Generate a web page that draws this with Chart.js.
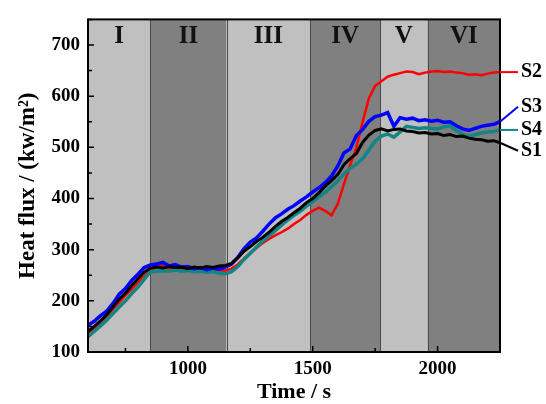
<!DOCTYPE html>
<html>
<head>
<meta charset="utf-8">
<script src="https://cdn.jsdelivr.net/npm/chart.js@4.4.0/dist/chart.umd.min.js"></script>
<style>
  html, body { margin: 0; padding: 0; background: #fff; }
  canvas { display: block; }
</style>
</head>
<body>
<canvas id="chart" width="546" height="404"></canvas>
<script>
// time axis (s)
const times = [600, 625, 650, 675, 700, 725, 750, 775, 800, 825, 850, 875, 900, 925, 950, 975,
	1000, 1025, 1050, 1075, 1100, 1125, 1150, 1175, 1200, 1225, 1250, 1275, 1300, 1325, 1350, 1375,
	1400, 1425, 1450, 1475, 1500, 1525, 1550, 1575, 1600, 1625, 1650, 1675, 1700, 1725, 1750, 1775,
	1800, 1825, 1850, 1875, 1900, 1925, 1950, 1975, 2000, 2025, 2050, 2075, 2100, 2125, 2150, 2175,
	2200, 2225, 2250];

// heat flux (kw/m2) per sensor
const s1 = [140, 150, 161, 173, 188, 203, 215, 230, 243, 256, 264, 266, 264, 267, 265, 266,
	263, 266, 264, 267, 265, 268, 269, 273, 284, 297, 306, 316, 324, 334, 345, 355,
	363, 372, 381, 392, 400, 411, 424, 435, 447, 466, 478, 488, 510, 524, 533, 536,
	532, 535, 536, 532, 531, 528, 529, 526, 527, 523, 525, 521, 522, 518, 516, 515,
	512, 513, 509];
const s2 = [137, 147, 158, 170, 183, 197, 210, 223, 236, 248, 260, 266, 268, 263, 264, 262,
	263, 262, 261, 262, 261, 260, 259, 263, 271, 283, 294, 303, 313, 321, 328, 334,
	341, 350, 358, 368, 376, 382, 376, 367, 389, 428, 465, 500, 550, 596, 620, 629,
	638, 642, 645, 648, 647, 643, 646, 648, 649, 647, 648, 646, 645, 642, 643, 641,
	644, 646, 647];
const s3 = [152, 160, 171, 180, 195, 213, 224, 240, 252, 265, 270, 272, 275, 268, 271, 266,
	267, 263, 265, 261, 264, 262, 266, 272, 285, 302, 315, 323, 336, 350, 362, 370,
	379, 386, 395, 403, 413, 421, 431, 444, 463, 489, 497, 523, 535, 551, 560, 563,
	568, 541, 558, 555, 557, 552, 554, 551, 553, 549, 550, 542, 536, 533, 537, 541,
	543, 545, 550];
const s4 = [130, 140, 151, 162, 175, 188, 200, 214, 227, 242, 257, 258, 259, 258, 260, 258,
	259, 257, 258, 256, 257, 254, 253, 257, 267, 281, 293, 305, 317, 327, 337, 348,
	358, 367, 375, 385, 394, 403, 412, 423, 434, 448, 459, 467, 478, 495, 512, 522,
	526, 520, 530, 541, 539, 537, 538, 537, 536, 540, 542, 533, 526, 521, 525, 528,
	530, 531, 534];

// test stages
const stageNames = ['I', 'II', 'III', 'IV', 'V', 'VI'];
const stageBounds = [600, 850, 1155, 1490, 1770, 1960, 2250];

// ticks
const xMajorTicks = [1000, 1500, 2000];
const xMinorTicks = [750, 1250, 1750, 2250];
const yMajorTicks = [100, 200, 300, 400, 500, 600, 700];
const yMinorTicks = [150, 250, 350, 450, 550, 650, 750];

const SERIF = '"Liberation Serif", "DejaVu Serif", serif';
const LIGHT = '#c0c0c0';
const DARK = '#808080';

const series = [
	{ name: 'S1', data: s1, color: '#000000', width: 3, dy: 8 },
	{ name: 'S3', data: s3, color: '#0000ff', width: 3.5, dy: -15 },
	{ name: 'S4', data: s4, color: '#138585', width: 3.5, dy: 0 },
	{ name: 'S2', data: s2, color: '#ff0000', width: 2.5, dy: 0 },
];

// stage shading + labels behind the lines
const stagePlugin = {
	id: 'stages',
	beforeDatasetsDraw(chart) {
		const { ctx, chartArea: a, scales: { x } } = chart;
		ctx.save();
		for (let i = 0; i < stageNames.length; i++) {
			const x0 = x.getPixelForValue(stageBounds[i]);
			const x1 = x.getPixelForValue(stageBounds[i + 1]);
			ctx.fillStyle = i % 2 === 0 ? LIGHT : DARK;
			ctx.fillRect(x0, a.top, x1 - x0, a.bottom - a.top);
			ctx.fillStyle = '#111';
			ctx.font = 'bold 25px ' + SERIF;
			ctx.textAlign = 'center';
			ctx.textBaseline = 'middle';
			ctx.fillText(stageNames[i], (x0 + x1) / 2, a.top + 17);
		}
		ctx.strokeStyle = '#4a4a4a';
		ctx.lineWidth = 1;
		for (let i = 1; i < stageBounds.length - 1; i++) {
			const px = Math.round(x.getPixelForValue(stageBounds[i])) + 0.5;
			ctx.beginPath();
			ctx.moveTo(px, a.top);
			ctx.lineTo(px, a.bottom);
			ctx.stroke();
		}
		ctx.restore();
	},
	afterDatasetsDraw(chart) {
		const { ctx, chartArea: a, scales: { x, y } } = chart;
		ctx.save();
		// frame
		ctx.strokeStyle = '#000';
		ctx.lineWidth = 2;
		ctx.strokeRect(a.left, a.top, a.right - a.left, a.bottom - a.top);
		// inward ticks
		ctx.lineWidth = 1.5;
		ctx.beginPath();
		xMajorTicks.forEach((v) => {
			const px = x.getPixelForValue(v);
			ctx.moveTo(px, a.bottom);
			ctx.lineTo(px, a.bottom - 6);
		});
		xMinorTicks.forEach((v) => {
			const px = x.getPixelForValue(v);
			ctx.moveTo(px, a.bottom);
			ctx.lineTo(px, a.bottom - 4);
		});
		yMajorTicks.forEach((v) => {
			const py = y.getPixelForValue(v);
			ctx.moveTo(a.left, py);
			ctx.lineTo(a.left + 6, py);
		});
		yMinorTicks.forEach((v) => {
			const py = y.getPixelForValue(v);
			ctx.moveTo(a.left, py);
			ctx.lineTo(a.left + 4, py);
		});
		ctx.stroke();
		// series labels with leader lines
		ctx.font = 'bold 20px ' + SERIF;
		ctx.textAlign = 'left';
		ctx.textBaseline = 'middle';
		series.forEach((s) => {
			const last = s.data.length - 1;
			const px = x.getPixelForValue(times[last]);
			const py = y.getPixelForValue(s.data[last]);
			const ly = py + s.dy;
			ctx.strokeStyle = s.color;
			ctx.lineWidth = 2;
			ctx.beginPath();
			ctx.moveTo(px, py);
			ctx.lineTo(px + 18, ly);
			ctx.stroke();
			ctx.fillStyle = '#000';
			ctx.fillText(s.name, px + 21, ly);
		});
		ctx.restore();
	},
};

new Chart(document.getElementById('chart'), {
	type: 'line',
	data: {
		labels: times,
		datasets: series.map((s) => ({
			label: s.name,
			data: times.map((t, i) => ({ x: t, y: s.data[i] })),
			borderColor: s.color,
			borderWidth: s.width,
			pointRadius: 0,
			tension: 0,
			fill: false,
		})),
	},
	options: {
		responsive: false,
		animation: false,
		devicePixelRatio: 1,
		layout: { padding: { top: 9, right: 46, left: 0, bottom: 0 } },
		plugins: { legend: { display: false }, tooltip: { enabled: false } },
		scales: {
			x: {
				type: 'linear',
				min: 600,
				max: 2250,
				grid: { display: false, drawTicks: false },
				border: { display: false },
				afterBuildTicks: (scale) => {
					scale.ticks = xMajorTicks.map((v) => ({ value: v }));
				},
				afterFit: (scale) => {
					scale.height = 52;
				},
				ticks: {
					padding: 6,
					color: '#000',
					font: { family: SERIF, size: 19, weight: 'bold' },
					maxRotation: 0,
					callback: (v) => String(v),
				},
				title: {
					display: true,
					text: 'Time / s',
					color: '#000',
					font: { family: SERIF, size: 22, weight: 'bold', lineHeight: 1 },
					padding: { top: 0, bottom: 1 },
				},
			},
			y: {
				min: 100,
				max: 750,
				grid: { display: false, drawTicks: false },
				border: { display: false },
				afterBuildTicks: (scale) => {
					scale.ticks = yMajorTicks.map((v) => ({ value: v }));
				},
				afterFit: (scale) => {
					scale.width = 88;
				},
				ticks: {
					padding: 8,
					color: '#000',
					font: { family: SERIF, size: 19, weight: 'bold' },
					callback: (v) => String(v),
				},
				title: {
					display: true,
					text: 'Heat flux / (kw/m²)',
					color: '#000',
					font: { family: SERIF, size: 23, weight: 'bold', lineHeight: 1 },
					padding: { top: 17, bottom: 0 },
				},
			},
		},
	},
	plugins: [stagePlugin],
});
</script>
</body>
</html>
